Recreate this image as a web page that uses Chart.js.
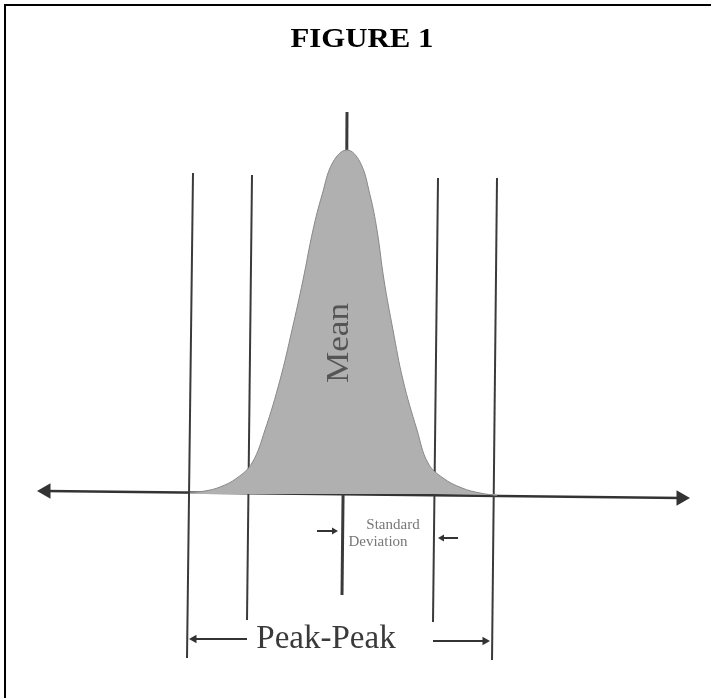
<!DOCTYPE html>
<html>
<head>
<meta charset="utf-8">
<title>Figure 1</title>
<script src="https://cdn.jsdelivr.net/npm/chart.js@4.4.1/dist/chart.umd.min.js"></script>
<style>
  html, body { margin: 0; padding: 0; background: #fff; }
  #wrap { position: relative; width: 711px; height: 698px; }
  #frame { position: absolute; left: 4px; top: 4px; right: -10px; bottom: -10px;
           border-left: 2px solid #000; border-top: 2px solid #000; pointer-events: none; }
  canvas { position: absolute; left: 0; top: 0; }
</style>
</head>
<body>
<div id="wrap">
  <canvas id="chart" width="711" height="698"></canvas>
  <div id="frame"></div>
</div>
<script>
// figure units: x grows right, y grows down (same grid as the figure)
const curveX = [190, 205, 220, 237, 252, 265, 280, 292, 303, 313, 322, 333, 347, 360, 370, 377, 384, 393, 403, 417, 428, 443, 462, 480, 497];
const curveY = [492.5, 491, 487, 478, 463, 430, 380, 330, 280, 230, 195, 162, 150, 162, 195, 230, 280, 330, 380, 430, 463, 478, 488, 493, 495.5];
const curveBase = 494;

// vertical lines: [topX, topY, bottomX, bottomY]
const outerLeft = [193, 173, 187, 658];
const innerLeft = [252, 175, 247, 620];
const innerRight = [438, 178, 433, 622];
const outerRight = [497, 178, 492, 660];
const meanTop = [347, 112, 346, 287];
const meanBottom = [344, 407, 342, 595];

// horizontal axis (arrow head centres)
const axisX = [46, 681];
const axisY = [491, 498];

// dimension arrows: [tailX, tailY, headX, headY]
const sdLeftArrow = [317, 531, 334, 531];
const sdRightArrow = [458, 538, 442, 538];
const ppLeftArrow = [247, 639, 194, 639];
const ppRightArrow = [433, 641, 485, 641];

// sx stretches the text along its reading direction
const labels = [
  { text: 'FIGURE 1', x: 362, y: 47, font: 'bold 28px "Liberation Serif"', color: '#000', rot: 0, sx: 1.1 },
  { text: 'Mean', x: 348, y: 343, font: '32px "Liberation Serif"', color: '#555', rot: -90, sx: 1.1 },
  { text: 'Standard', x: 393, y: 529, font: '15px "Liberation Serif"', color: '#777', rot: 0, sx: 1 },
  { text: 'Deviation', x: 378, y: 546, font: '15px "Liberation Serif"', color: '#777', rot: 0, sx: 1 },
  { text: 'Peak-Peak', x: 326, y: 648, font: '33px "Liberation Serif"', color: '#3a3a3a', rot: 0, sx: 1 }
];

function seg(p) {
  return [{ x: p[0], y: p[1] }, { x: p[2], y: p[3] }];
}

function rule(p, width) {
  return { type: 'line', data: seg(p), borderColor: '#3a3a3a', borderWidth: width, pointRadius: 0, fill: false };
}

function arrow(p, size) {
  const ang = Math.atan2(p[3] - p[1], p[2] - p[0]) * 180 / Math.PI + 90;
  return {
    type: 'line', data: seg(p), borderColor: '#333', backgroundColor: '#333', borderWidth: 2,
    pointStyle: 'triangle', pointRadius: [0, size], pointRotation: ang, pointBorderWidth: 0, fill: false
  };
}

const labelPlugin = {
  id: 'labels',
  afterDatasetsDraw(chart) {
    const ctx = chart.ctx;
    const xs = chart.scales.x, ys = chart.scales.y;
    labels.forEach(l => {
      ctx.save();
      ctx.translate(xs.getPixelForValue(l.x), ys.getPixelForValue(l.y));
      ctx.rotate(l.rot * Math.PI / 180);
      ctx.scale(l.sx, 1);
      ctx.font = l.font;
      ctx.fillStyle = l.color;
      ctx.textAlign = 'center';
      ctx.textBaseline = 'alphabetic';
      ctx.fillText(l.text, 0, 0);
      ctx.restore();
    });
  }
};

const ctx = document.getElementById('chart').getContext('2d');
new Chart(ctx, {
  type: 'line',
  data: {
    datasets: [
      {
        data: curveX.map((x, i) => ({ x: x, y: curveY[i] })),
        borderColor: '#888', borderWidth: 1,
        backgroundColor: '#b0b0b0',
        fill: { value: curveBase },
        tension: 0.4,
        pointRadius: 0
      },
      rule(outerLeft, 2), rule(innerLeft, 2), rule(innerRight, 2), rule(outerRight, 2),
      rule(meanTop, 3), rule(meanBottom, 3),
      {
        data: axisX.map((x, i) => ({ x: x, y: axisY[i] })),
        borderColor: '#333', backgroundColor: '#333', borderWidth: 2.5,
        pointStyle: 'triangle', pointRadius: 9, pointRotation: [-90, 90], pointBorderWidth: 0, fill: false
      },
      arrow(sdLeftArrow, 4), arrow(sdRightArrow, 4),
      arrow(ppLeftArrow, 5), arrow(ppRightArrow, 5)
    ]
  },
  options: {
    responsive: false,
    animation: false,
    layout: { padding: 0, autoPadding: false },
    plugins: { legend: { display: false }, tooltip: { enabled: false } },
    scales: {
      x: { type: 'linear', min: 0, max: 711, display: false },
      y: { type: 'linear', min: 0, max: 698, reverse: true, display: false }
    }
  },
  plugins: [labelPlugin]
});
</script>
</body>
</html>
